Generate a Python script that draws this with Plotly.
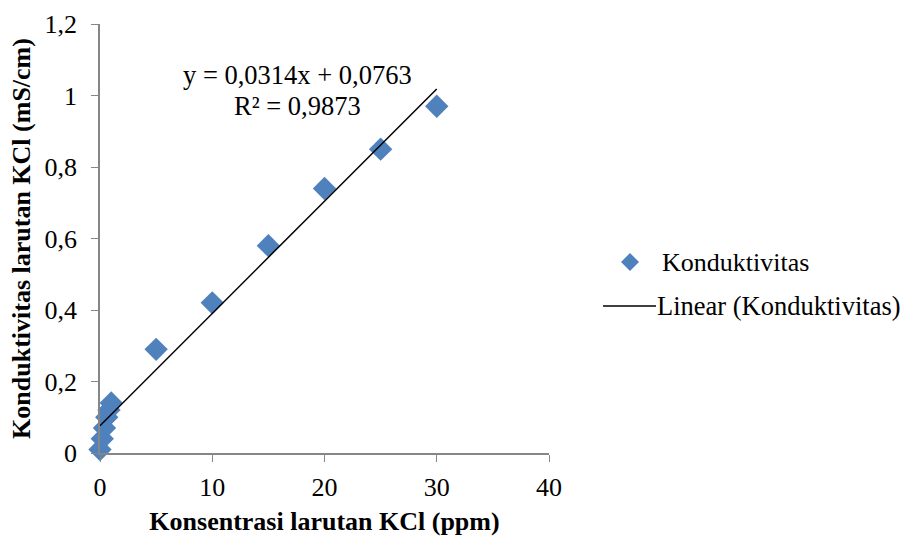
import plotly.graph_objects as go

# Data
konsentrasi = [0, 0.2, 0.4, 0.6, 0.8, 1, 5, 10, 15, 20, 25, 30]
konduktivitas = [0.01, 0.04, 0.07, 0.10, 0.12, 0.14, 0.29, 0.42, 0.58, 0.74, 0.85, 0.97]
slope = 0.0314
intercept = 0.0763
trend_x = [0, 30]
series_name = "Konduktivitas"
trend_name = "Linear (Konduktivitas)"
eq_text = "y = 0,0314x + 0,0763"
r2_text = "R² = 0,9873"

W, H = 906, 537
L, R, T, B = 100, 549, 24, 453
FONT = "Liberation Serif"
BLUE = "#4F81BD"

def px(x):
    return (x - L) / (R - L)

def py(y):
    return (B - y) / (B - T)

fig = go.Figure()
fig.add_trace(go.Scatter(
    x=konsentrasi, y=konduktivitas, mode="markers", name=series_name,
    marker=dict(symbol="diamond", size=18, color=BLUE, line=dict(width=0)),
    showlegend=False, cliponaxis=False))
fig.add_trace(go.Scatter(
    x=trend_x, y=[slope * v + intercept for v in trend_x], mode="lines", name=trend_name,
    line=dict(color="black", width=1.5), showlegend=False))

# manual legend
shapes = [
    dict(type="path", xref="paper", yref="paper",
         path=f"M {px(630)} {py(253)} L {px(639)} {py(262)} L {px(630)} {py(271)} L {px(621)} {py(262)} Z",
         fillcolor=BLUE, line=dict(width=0)),
    dict(type="line", xref="paper", yref="paper", x0=px(603), x1=px(656), y0=py(306), y1=py(306),
         line=dict(color="black", width=1.5)),
]
annotations = [
    dict(text=series_name, xref="paper", yref="paper", x=px(660), y=py(262), xanchor="left", yanchor="middle",
         showarrow=False, font=dict(family=FONT, size=26, color="black")),
    dict(text=trend_name, xref="paper", yref="paper", x=px(655), y=py(306), xanchor="left", yanchor="middle",
         showarrow=False, font=dict(family=FONT, size=26.5, color="black")),
    dict(text=eq_text, xref="paper", yref="paper", x=px(297), y=py(75), xanchor="center", yanchor="middle",
         showarrow=False, font=dict(family=FONT, size=26.5, color="black")),
    dict(text=r2_text, xref="paper", yref="paper", x=px(297), y=py(106), xanchor="center", yanchor="middle",
         showarrow=False, font=dict(family=FONT, size=26.5, color="black")),
]

fig.update_layout(
    width=W, height=H,
    margin=dict(l=L, r=W - R, t=T, b=H - B, pad=0),
    paper_bgcolor="white", plot_bgcolor="white",
    separators=", ",
    font=dict(family=FONT, size=26, color="black"),
    shapes=shapes, annotations=annotations,
    xaxis=dict(range=[0, 40], tickvals=[0, 10, 20, 30, 40], showgrid=False, zeroline=False,
               showline=True, linecolor="#868686", linewidth=1.5, ticks="outside", ticklen=7,
               tickcolor="#868686", tickfont=dict(size=26), ticklabelstandoff=3, automargin=False,
               title=dict(text="<b>Konsentrasi larutan KCl (ppm)</b>", font=dict(size=26), standoff=11)),
    yaxis=dict(range=[0, 1.2], tickvals=[0, 0.2, 0.4, 0.6, 0.8, 1, 1.2], showgrid=False, zeroline=False,
               showline=True, linecolor="#868686", linewidth=1.5, ticks="outside", ticklen=7,
               tickcolor="#868686", tickfont=dict(size=26), ticklabelstandoff=9, automargin=False,
               title=dict(text="<b>Konduktivitas larutan KCl (mS/cm)</b>", font=dict(size=26), standoff=6)),
)

fig.write_html("out.html")
